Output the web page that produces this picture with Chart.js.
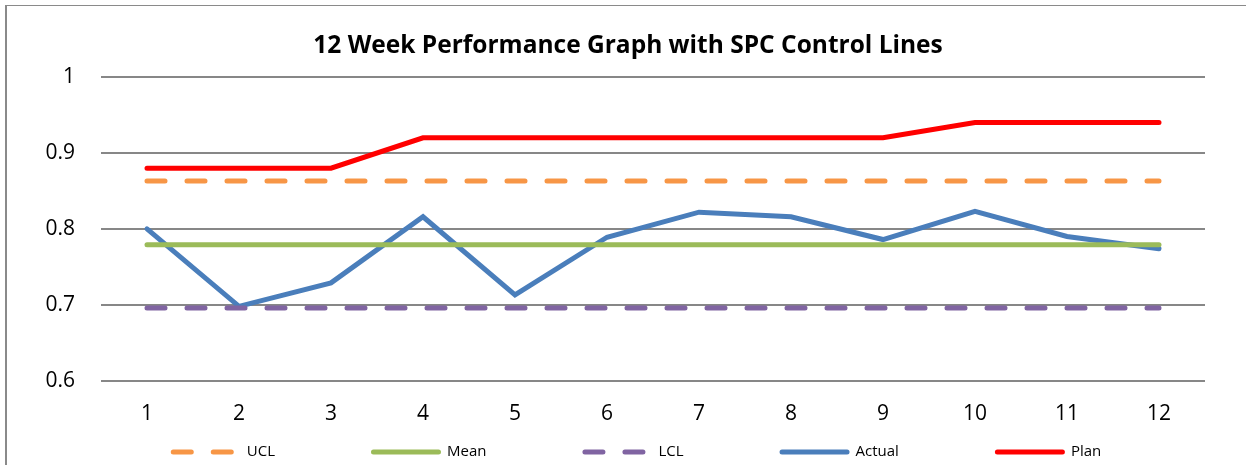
<!DOCTYPE html>
<html>
<head>
<meta charset="utf-8">
<script src="https://cdn.jsdelivr.net/npm/chart.js@4/dist/chart.umd.min.js"></script>
<style>
  html, body { margin: 0; padding: 0; background: #fff; }
  #wrap { position: relative; width: 1246px; height: 465px; overflow: hidden; }
  #frame { position: absolute; left: 5px; top: 5px; width: 1250px; height: 480px;
           border-left: 2px solid #8a8a8a; border-top: 1px solid #8a8a8a; box-sizing: border-box; }
  canvas { position: absolute; left: 0; top: 0; }
</style>
</head>
<body>
<div id="wrap">
  <div id="frame"></div>
  <canvas id="c" width="1246" height="465"></canvas>
</div>
<script>
const weeks = ['1','2','3','4','5','6','7','8','9','10','11','12'];
const ucl    = [0.863,0.863,0.863,0.863,0.863,0.863,0.863,0.863,0.863,0.863,0.863,0.863];
const mean   = [0.779,0.779,0.779,0.779,0.779,0.779,0.779,0.779,0.779,0.779,0.779,0.779];
const lcl    = [0.696,0.696,0.696,0.696,0.696,0.696,0.696,0.696,0.696,0.696,0.696,0.696];
const actual = [0.800,0.698,0.729,0.816,0.713,0.789,0.822,0.816,0.786,0.823,0.790,0.774];
const plan   = [0.880,0.880,0.880,0.920,0.920,0.920,0.920,0.920,0.920,0.940,0.940,0.940];
const yTicks = [0.6,0.7,0.8,0.9,1];

const FONT = '"Open Sans", Lato, sans-serif';
const dash = [18, 22];

function ds(label, data, color, dashed) {
  return {
    label, data,
    borderColor: color, backgroundColor: color,
    borderWidth: 5,
    borderDash: dashed ? dash : [],
    borderCapStyle: 'round',
    borderJoinStyle: 'miter',
    pointRadius: 0, pointHoverRadius: 0,
    tension: 0, fill: false
  };
}

const legendPlugin = {
  id: 'bottomLegend',
  afterLayout(chart) {
    // widen the y-axis label clip box so tick labels are not cut
    chart.scales.y.left = 0;
  },
  afterDraw(chart) {
    const ctx = chart.ctx;
    const lineW = 70, gapText = 6, gapItem = 96, cy = 452, cx = 636;
    ctx.save();
    ctx.font = '15px ' + FONT;
    const items = chart.data.datasets.map(d => ({ d, tw: ctx.measureText(d.label).width }));
    const total = items.reduce((s, it) => s + lineW + gapText + it.tw, 0) + gapItem * (items.length - 1);
    let x = cx - total / 2;
    items.forEach(it => {
      ctx.beginPath();
      ctx.strokeStyle = it.d.borderColor;
      ctx.lineWidth = it.d.borderWidth;
      ctx.lineCap = 'round';
      ctx.setLineDash(it.d.borderDash || []);
      ctx.moveTo(x + 2.5, cy);
      ctx.lineTo(x + lineW - 2.5, cy);
      ctx.stroke();
      ctx.setLineDash([]);
      ctx.fillStyle = '#000';
      ctx.textBaseline = 'middle';
      ctx.textAlign = 'left';
      ctx.fillText(it.d.label, x + lineW + gapText, cy);
      x += lineW + gapText + it.tw + gapItem;
    });
    ctx.restore();
  }
};

new Chart(document.getElementById('c'), {
  type: 'line',
  data: {
    labels: weeks,
    datasets: [
      ds('UCL', ucl, '#F79646', true),
      ds('Mean', mean, '#9BBB59', false),
      ds('LCL', lcl, '#8064A2', true),
      ds('Actual', actual, '#4A7EBB', false),
      ds('Plan', plan, '#FF0000', false)
    ]
  },
  plugins: [legendPlugin],
  options: {
    responsive: false,
    animation: false,
    events: [],
    layout: { padding: { left: 51, right: 41, top: 20, bottom: 17 } },
    plugins: {
      title: {
        display: true,
        text: '12 Week Performance Graph with SPC Control Lines',
        color: '#000',
        font: { family: FONT, size: 24.5, weight: 'bold' },
        padding: { top: 11, bottom: 16.6 }
      },
      legend: { display: false },
      tooltip: { enabled: false }
    },
    scales: {
      x: {
        offset: true,
        grid: { display: false, drawTicks: false },
        border: { display: false },
        ticks: { color: '#000', font: { family: FONT, size: 21 }, padding: 21, maxRotation: 0 }
      },
      y: {
        min: 0.6, max: 1,
        afterFit(s) { s.width = 50; },
        afterBuildTicks(s) { s.ticks = yTicks.map(v => ({ value: v })); },
        grid: { color: '#878787', lineWidth: 2, drawTicks: false },
        border: { display: false },
        ticks: {
          color: '#000', font: { family: FONT, size: 21 }, padding: 26,
          callback: v => String(Math.round(v * 10) / 10)
        }
      }
    }
  }
});
</script>
</body>
</html>
